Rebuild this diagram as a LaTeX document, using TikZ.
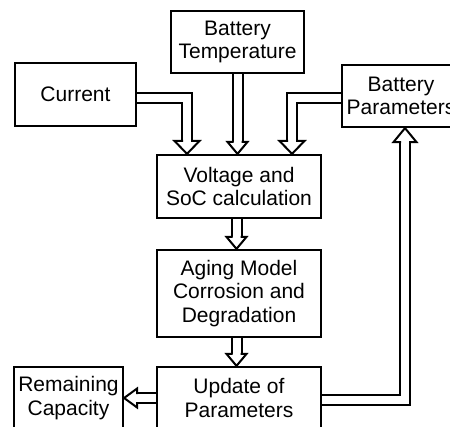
\documentclass[tikz,border=0pt]{standalone}
\usepackage{fontspec}
\setmainfont{Liberation Sans}
\usetikzlibrary{backgrounds}
\tikzset{
  box/.style={draw, line width=2.2pt, inner sep=0pt, align=center,
    font=\fontsize{21pt}{23.5pt}\selectfont},
  shaft/.style={draw, line width=2pt, double=white, double distance=8pt, line join=miter},
  pics/hhead/.style n args={2}{code={
    \fill[white] (0pt,0pt) -- (-#2,#1/2) -- (-#2,-#1/2) -- cycle;
    \draw[line width=2pt, line join=miter] (-#2,4pt) -- (-#2,#1/2) -- (0pt,0pt) -- (-#2,-#1/2) -- (-#2,-4pt);
  }}
}
\begin{document}
\begin{tikzpicture}[x=1pt, y=-1pt]
\useasboundingbox (0,0) rectangle (450,426);
\clip (0,0) rectangle (450,426);

\node[box, minimum width=133pt, minimum height=62pt] (temp) at (237.5,42) {Battery\\Temperature};
\node[box, minimum width=121pt, minimum height=63pt] (cur) at (75.5,94.5) {Current};
\node[box, minimum width=118pt, minimum height=62pt] (bp) at (401,96) {Battery\\Parameters};
\node[box, minimum width=164pt, minimum height=63pt] (vsoc) at (239,186.5) {Voltage and\\SoC calculation};
\node[box, minimum width=164pt, minimum height=87pt] (aging) at (239,293.5) {Aging Model\\Corrosion and\\Degradation};
\node[box, minimum width=164pt, minimum height=62pt] (upd) at (239,398) {Update of\\Parameters};
\node[box, minimum width=109pt, minimum height=62pt] (rem) at (68.5,398) {Remaining\\Capacity};

\begin{pgfonlayer}{background}
  % Current -> Voltage
  \draw[shaft, shorten >=13pt] ([yshift=-3pt]cur.east) -| ([xshift=-52pt]vsoc.north);
  \pic[rotate=-90] at ([xshift=-52pt]vsoc.north) {hhead={25pt}{13pt}};
  % Temperature -> Voltage
  \draw[shaft, shorten >=12pt] (temp.south) -- (temp.south |- vsoc.north);
  \pic[rotate=-90] at (temp.south |- vsoc.north) {hhead={20pt}{12pt}};
  % Battery Parameters -> Voltage
  \draw[shaft, shorten >=13pt] ([yshift=-2pt]bp.west) -| ([xshift=53pt]vsoc.north);
  \pic[rotate=-90] at ([xshift=53pt]vsoc.north) {hhead={25pt}{13pt}};
  % Voltage -> Aging
  \draw[shaft, shorten >=12pt] ([xshift=-2.5pt]vsoc.south) -- ([xshift=-2.5pt]aging.north);
  \pic[rotate=-90] at ([xshift=-2.5pt]aging.north) {hhead={20pt}{12pt}};
  % Aging -> Update
  \draw[shaft, shorten >=12pt] ([xshift=-2.5pt]aging.south) -- ([xshift=-2.5pt]upd.north);
  \pic[rotate=-90] at ([xshift=-2.5pt]upd.north) {hhead={20pt}{12pt}};
  % Update -> Remaining
  \draw[shaft, shorten >=13pt] (upd.west) -- (rem.east);
  \pic[rotate=180] at (rem.east) {hhead={19pt}{13pt}};
  % Update -> Battery Parameters
  \draw[shaft, shorten >=14pt] ([yshift=-1.5pt]upd.east) -| ([xshift=4pt]bp.south);
  \pic[rotate=90] at ([xshift=4pt]bp.south) {hhead={23pt}{14pt}};
\end{pgfonlayer}
\end{tikzpicture}
\end{document}
